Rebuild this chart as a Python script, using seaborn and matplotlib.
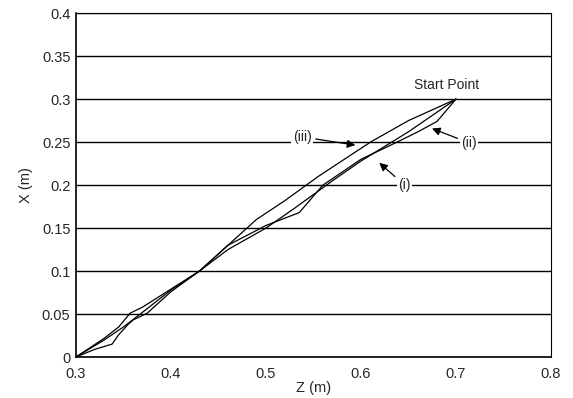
import matplotlib
matplotlib.use("Agg")
import matplotlib.pyplot as plt
import seaborn as sns
import pandas as pd

# Curve data (Z, X) in metres
z_i = [0.70, 0.65, 0.60, 0.57, 0.53, 0.50, 0.46, 0.43, 0.40, 0.37, 0.35, 0.33, 0.30]
x_i = [0.300, 0.262, 0.228, 0.205, 0.173, 0.150, 0.125, 0.100, 0.078, 0.052, 0.035, 0.020, 0.000]

z_ii = [0.70, 0.68, 0.66, 0.638, 0.60, 0.56, 0.535, 0.50, 0.46, 0.43, 0.40, 0.375, 0.36, 0.355, 0.345, 0.338, 0.32, 0.30]
x_ii = [0.300, 0.274, 0.262, 0.250, 0.230, 0.200, 0.168, 0.153, 0.130, 0.100, 0.076, 0.051, 0.043, 0.038, 0.026, 0.015, 0.009, 0.000]

z_iii = [0.70, 0.65, 0.61, 0.555, 0.52, 0.49, 0.47, 0.43, 0.40, 0.37, 0.357, 0.345, 0.33, 0.30]
x_iii = [0.300, 0.275, 0.250, 0.210, 0.182, 0.160, 0.140, 0.100, 0.079, 0.058, 0.051, 0.035, 0.022, 0.000]

y_ticks = [0, 0.05, 0.1, 0.15, 0.2, 0.25, 0.3, 0.35, 0.4]
y_ticklabels = ["0", "0.05", "0.1", "0.15", "0.2", "0.25", "0.3", "0.35", "0.4"]
x_ticks = [0.3, 0.4, 0.5, 0.6, 0.7, 0.8]
x_ticklabels = ["0.3", "0.4", "0.5", "0.6", "0.7", "0.8"]

df = pd.concat([
    pd.DataFrame({"Z": z_i, "X": x_i, "curve": "(i)"}),
    pd.DataFrame({"Z": z_ii, "X": x_ii, "curve": "(ii)"}),
    pd.DataFrame({"Z": z_iii, "X": x_iii, "curve": "(iii)"}),
], ignore_index=True)

sns.set_style("white")
plt.rcParams["font.family"] = ["Liberation Sans", "DejaVu Sans"]

fig = plt.figure(figsize=(5.73, 3.98), dpi=100)
ax = fig.add_axes([0.1326, 0.103, 0.829, 0.864])

for ycoord in y_ticks:
    ax.axhline(ycoord, color="black", lw=1.0, zorder=1)

sns.lineplot(data=df, x="Z", y="X", units="curve", estimator=None, sort=False,
             color="black", lw=0.9, ax=ax, legend=False, zorder=3)

ax.set_xlim(0.3, 0.8)
ax.set_ylim(0, 0.4)
ax.set_xticks(x_ticks)
ax.set_xticklabels(x_ticklabels)
ax.set_yticks(y_ticks)
ax.set_yticklabels(y_ticklabels)
ax.tick_params(axis="both", labelsize=10.5, length=3, width=0.8, direction="out", color="black")
ax.tick_params(axis="x", pad=4)
ax.tick_params(axis="y", pad=1)
for s in ax.spines.values():
    s.set_color("black")
    s.set_linewidth(0.8)
ax.spines["left"].set_linewidth(1.2)
ax.spines["bottom"].set_linewidth(1.2)

ax.set_xlabel("Z (m)", fontsize=10.5, labelpad=0)
ax.set_ylabel("X (m)", fontsize=10.5, labelpad=6)

ax.text(0.69, 0.308, "Start Point", fontsize=10, ha="center", va="bottom")

arrowprops = dict(arrowstyle="-|>", color="black", lw=0.9, mutation_scale=12)
tb = dict(boxstyle="square,pad=0.1", fc="white", ec="none")
ax.annotate("(iii)", xy=(0.597, 0.246), xytext=(0.548, 0.256), fontsize=10,
            ha="right", va="center", arrowprops=arrowprops, bbox=tb)
ax.annotate("(ii)", xy=(0.672, 0.267), xytext=(0.714, 0.249), fontsize=10,
            ha="center", va="center", arrowprops=arrowprops, bbox=tb)
ax.annotate("(i)", xy=(0.617, 0.228), xytext=(0.646, 0.200), fontsize=10,
            ha="center", va="center", arrowprops=arrowprops, bbox=tb)

fig.savefig("out.png", dpi=100)
